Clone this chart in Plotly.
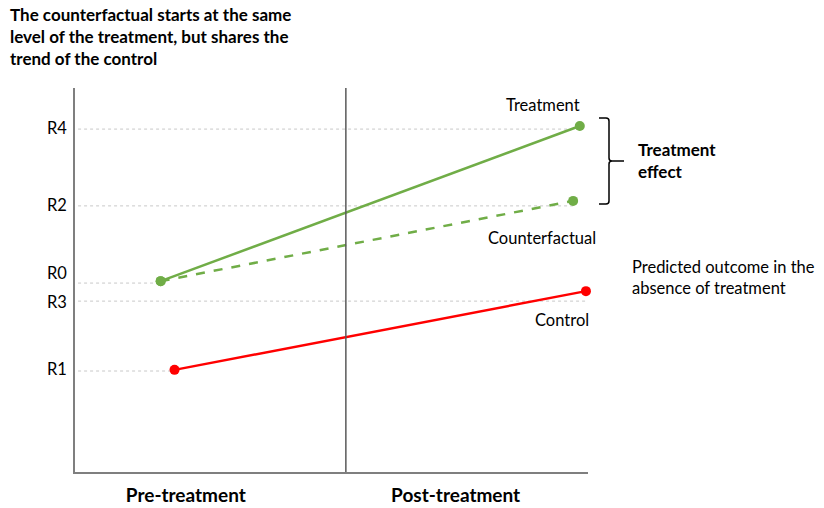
import plotly.graph_objects as go

# ---- data ----
series_names = ["Treatment", "Counterfactual", "Control"]
treat_x = [0.167, 0.984]
treat_y = [4.97, 9.01]
cf_x = [0.167, 0.971]
cf_y = [4.97, 7.06]
ctrl_x = [0.194, 0.996]
ctrl_y = [2.66, 4.71]

level_labels = ["R4", "R2", "R0", "R3", "R1"]
level_label_y = [8.96, 6.95, 5.18, 4.43, 2.68]
level_line_y = [8.93, 6.93, 4.92, 4.45, 2.63]
level_line_end_x = [0.984, 0.971, 0.167, 0.996, 0.194]

period_labels = ["Pre-treatment", "Post-treatment"]
period_x = [0.216, 0.742]
divider_x = 0.528

GREEN = "#70ad47"
RED = "#ff0000"
FONT = "Lato"

fig = go.Figure()

# dotted guide lines
for ly, ex in zip(level_line_y, level_line_end_x):
    fig.add_trace(go.Scatter(x=[0.006, ex], y=[ly, ly], mode="lines",
                             line=dict(color="#c8c8c8", width=1, dash="dot"),
                             hoverinfo="skip", showlegend=False))

fig.add_trace(go.Scatter(x=treat_x, y=treat_y, mode="lines+markers", name=series_names[0],
                         line=dict(color=GREEN, width=2.5), marker=dict(size=10, color=GREEN),
                         cliponaxis=False, showlegend=False))
fig.add_trace(go.Scatter(x=cf_x, y=cf_y, mode="lines+markers", name=series_names[1],
                         line=dict(color=GREEN, width=2.5, dash="dash"), marker=dict(size=10, color=GREEN),
                         cliponaxis=False, showlegend=False))
fig.add_trace(go.Scatter(x=ctrl_x, y=ctrl_y, mode="lines+markers", name=series_names[2],
                         line=dict(color=RED, width=2.5), marker=dict(size=10, color=RED),
                         cliponaxis=False, showlegend=False))

L, R, T, B = 75, 236, 88, 36
W, H = 824, 508
PW, PH = W - L - R, H - T - B


def px(xp, yp):
    return (xp - L) / PW, (H - B - yp) / PH


# divider
fig.add_shape(type="line", xref="x", yref="paper", x0=divider_x, x1=divider_x, y0=0, y1=1,
              line=dict(color="#595959", width=1.5))

# brace
pts = [(599, 118), (606, 118), (609, 121), (609, 158), (612, 161), (624, 161),
       (612, 161), (609, 164), (609, 201), (606, 204), (599, 204)]
cp = [px(a, b) for a, b in pts]
path = (f"M {cp[0][0]},{cp[0][1]} L {cp[1][0]},{cp[1][1]} Q {px(609,118)[0]},{px(609,118)[1]} {cp[2][0]},{cp[2][1]} "
        f"L {cp[3][0]},{cp[3][1]} Q {px(609,161)[0]},{px(609,161)[1]} {cp[4][0]},{cp[4][1]} L {cp[5][0]},{cp[5][1]} "
        f"M {cp[6][0]},{cp[6][1]} Q {px(609,161)[0]},{px(609,161)[1]} {cp[7][0]},{cp[7][1]} "
        f"L {cp[8][0]},{cp[8][1]} Q {px(609,204)[0]},{px(609,204)[1]} {cp[9][0]},{cp[9][1]} L {cp[10][0]},{cp[10][1]}")
fig.add_shape(type="path", xref="paper", yref="paper", path=path, line=dict(color="#000000", width=1.5))

anns = [
    dict(text="<b>The counterfactual starts at the same<br>level of the treatment, but shares the<br>trend of the control</b>",
         x=8, y=2, xanchor="left", yanchor="top", size=17, align="left"),
    dict(text="Treatment", x=543, y=105, xanchor="center", yanchor="middle", size=16.5, align="center"),
    dict(text="<b>Treatment<br>effect</b>", x=636, y=160, xanchor="left", yanchor="middle", size=17, align="left"),
    dict(text="Counterfactual", x=486, y=238, xanchor="left", yanchor="middle", size=16.5, align="left"),
    dict(text="Predicted outcome in the<br>absence of treatment", x=630, y=277, xanchor="left", yanchor="middle",
         size=16.5, align="left"),
    dict(text="Control", x=562, y=320, xanchor="center", yanchor="middle", size=16.5, align="center"),
]
for a in anns:
    ax, ay = px(a["x"], a["y"])
    fig.add_annotation(text=a["text"], x=ax, y=ay, xref="paper", yref="paper", showarrow=False,
                       xanchor=a["xanchor"], yanchor=a["yanchor"], align=a["align"],
                       font=dict(family=FONT, size=a["size"], color="#000000"))

fig.update_layout(
    width=W, height=H, margin=dict(l=L, r=R, t=T, b=B, autoexpand=False),
    paper_bgcolor="white", plot_bgcolor="white",
    font=dict(family=FONT, color="#000000"),
    xaxis=dict(range=[0, 1], showgrid=False, zeroline=False, showline=True, linecolor="#7f7f7f",
               linewidth=1.5, tickvals=period_x, ticktext=[f"<b>{t}</b>" for t in period_labels],
               tickfont=dict(family=FONT, size=19, color="#000000"), ticks="outside", ticklen=5,
               tickcolor="rgba(0,0,0,0)", automargin=False),
    yaxis=dict(range=[0, 10], showgrid=False, zeroline=False, showline=True, linecolor="#7f7f7f",
               linewidth=1.5, tickvals=level_label_y, ticktext=level_labels,
               tickfont=dict(family=FONT, size=16.5, color="#000000"), ticks="outside", ticklen=3,
               tickcolor="rgba(0,0,0,0)", automargin=False),
)

fig.write_html("out.html", config={"displayModeBar": False},
               post_script="document.body.style.margin='0';document.body.style.overflow='hidden';")
